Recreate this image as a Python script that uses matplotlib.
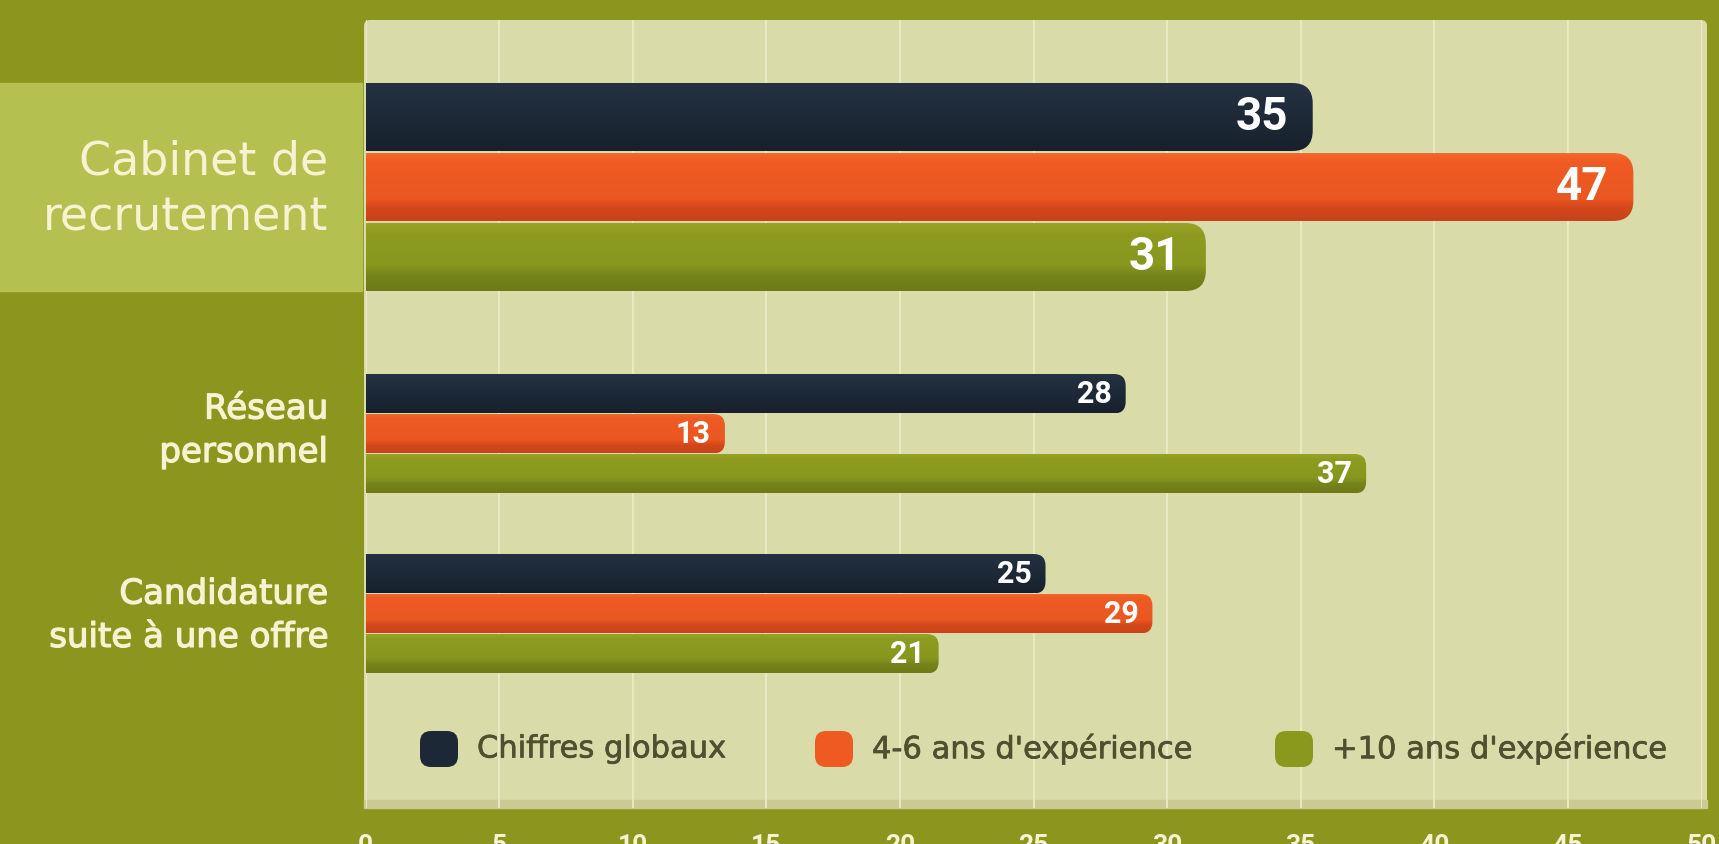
import numpy as np
import matplotlib
matplotlib.use("Agg")
import matplotlib.pyplot as plt
import matplotlib.patheffects as pe
from matplotlib.patches import FancyBboxPatch, Rectangle
from matplotlib.colors import to_rgb

# Donnees
categories = ["Cabinet de\nrecrutement", "Réseau\npersonnel", "Candidature\nsuite à une offre"]
series = ["Chiffres globaux", "4-6 ans d'expérience", "+10 ans d'expérience"]
chiffres_globaux = [35, 28, 25]
ans_4_6 = [47, 13, 29]
ans_10_plus = [31, 37, 21]
graduations = [0, 5, 10, 15, 20, 25, 30, 35, 40, 45, 50]

# Couleurs
FOND = "#8b961f"
PANNEAU = "#d9dba9"
SURLIGNE = "#b4c04f"
CREME = "#f6f3d2"
TEXTE_LEGENDE = "#4f5030"
COULEURS = ["#1c2836", "#ee5a22", "#8a991e"]
DEGRADES = [
    [(0.0, "#243242"), (1.0, "#17212d")],
    [(0.0, "#f46a32"), (0.12, "#ef5b23"), (0.68, "#ea5720"), (0.8, "#d3481b"), (1.0, "#c8431a")],
    [(0.0, "#98a527"), (0.15, "#8d9c1f"), (0.62, "#879720"), (0.78, "#75841a"), (1.0, "#6d7a17")],
]

# Mise en page (pixels de la figure, origine en haut a gauche)
W, H = 1719, 844
X0_PX, PX_PAR_UNITE = 365.5, 26.72
HAUT_PANNEAU, BAS_PANNEAU = 20, 808
haut_groupe = [83, 374, 554]
epaisseur = [68, 39.5, 39.5]
ecart = [2, 0.5, 0.5]
decalage_libelle = [3, -3, 2]
taille_valeur = [33, 22]
retrait_valeur = [18, 10]
CAP = 0.45


def boite_fig(x0, y0, x1, y1):
    return [x0 / W, 1 - y1 / H, (x1 - x0) / W, (y1 - y0) / H]


def degrade(arrets, n=120):
    pos = np.linspace(0, 1, n)
    p = [a[0] for a in arrets]
    cols = np.array([to_rgb(a[1]) for a in arrets])
    img = np.stack([np.interp(pos, p, cols[:, k]) for k in range(3)], axis=1)
    return img.reshape(n, 1, 3)


fig = plt.figure(figsize=(W / 100, H / 100), dpi=100)
fig.patch.set_facecolor(FOND)

# bande claire derriere la premiere categorie
fig.patches.append(Rectangle((0, 1 - 291 / H), 362 / W, (291 - 83) / H,
                             transform=fig.transFigure, color=SURLIGNE, zorder=0))

# panneau clair arrondi
px0, px1 = 364, 1707
fig.patches.append(FancyBboxPatch((px0 / W, 1 - BAS_PANNEAU / H), (px1 - px0) / W,
                                  (BAS_PANNEAU - HAUT_PANNEAU) / H,
                                  boxstyle=f"round,pad=0,rounding_size={6 / W}",
                                  mutation_aspect=W / H, transform=fig.transFigure,
                                  facecolor=PANNEAU, edgecolor="none", zorder=0))
fig.patches.append(Rectangle((px0 / W, 1 - BAS_PANNEAU / H), (px1 - px0) / W, 8 / H,
                             transform=fig.transFigure, color="#c9cc92", zorder=0))

ax = fig.add_axes(boite_fig(X0_PX, HAUT_PANNEAU, X0_PX + 50 * PX_PAR_UNITE, BAS_PANNEAU))
ax.set_facecolor("none")
ax.set_zorder(2)

valeurs = [chiffres_globaux, ans_4_6, ans_10_plus]
epais = [pe.withStroke(linewidth=0.9, foreground=CREME)]

for g, cat in enumerate(categories):
    for s, serie in enumerate(valeurs):
        v = serie[g]
        h = epaisseur[g]
        haut = haut_groupe[g] + s * (h + ecart[g])
        r = 0.3 * h
        fin = v + CAP
        forme = FancyBboxPatch((-1, haut), fin + 1, h,
                               boxstyle=f"round,pad=0,rounding_size={r / PX_PAR_UNITE}",
                               mutation_aspect=PX_PAR_UNITE,
                               facecolor="none", edgecolor="none", zorder=3)
        ax.add_patch(forme)
        im = ax.imshow(degrade(DEGRADES[s]), extent=(-1, fin, haut + h, haut),
                       aspect="auto", interpolation="bilinear", zorder=3)
        im.set_clip_path(forme)
        k = 0 if g == 0 else 1
        ax.annotate(str(v), xy=(fin, haut + h / 2), xytext=(-retrait_valeur[k], 0),
                    textcoords="offset points", ha="right", va="center",
                    fontsize=taille_valeur[k], fontweight="bold", family="Roboto",
                    color="white", zorder=4)

    centre = haut_groupe[g] + 1.5 * epaisseur[g] + ecart[g] + decalage_libelle[g]
    if g == 0:
        ax.annotate(cat, xy=(0, centre), xytext=(-27, 0), textcoords="offset points",
                    ha="right", va="center", fontsize=33, family="DejaVu Sans",
                    color=CREME, linespacing=1.3, annotation_clip=False)
    else:
        ax.annotate(cat, xy=(0, centre), xytext=(-27, 0), textcoords="offset points",
                    ha="right", va="center", fontsize=24.5, family="DejaVu Sans",
                    color=CREME, linespacing=1.4, path_effects=epais,
                    annotation_clip=False)

# legende dessinee a la main
legende_x_px = [420, 815, 1275]
for s, nom in enumerate(series):
    xd = (legende_x_px[s] - X0_PX) / PX_PAR_UNITE
    marque = FancyBboxPatch((xd, 731), 38 / PX_PAR_UNITE, 36,
                            boxstyle=f"round,pad=0,rounding_size={11 / PX_PAR_UNITE}",
                            mutation_aspect=PX_PAR_UNITE,
                            facecolor=COULEURS[s], edgecolor="none", zorder=3)
    ax.add_patch(marque)
    ax.text(xd + 57 / PX_PAR_UNITE, 749, nom, ha="left", va="center",
            fontsize=22, family="DejaVu Sans", color=TEXTE_LEGENDE, zorder=3,
            path_effects=[pe.withStroke(linewidth=0.5, foreground=TEXTE_LEGENDE)])

ax.set_xlim(0, 50)
ax.set_ylim(BAS_PANNEAU, HAUT_PANNEAU)
ax.set_aspect("auto")
ax.set_xticks(graduations)
ax.set_yticks([])
ax.grid(axis="x", color="#eff1d0", linewidth=1.1)
ax.vlines(graduations[1:-1], HAUT_PANNEAU, BAS_PANNEAU, colors="#cbcd96",
          linewidth=0.7, zorder=0.5)
ax.set_axisbelow(True)
ax.tick_params(axis="x", length=0, pad=19, labelsize=19, labelcolor=CREME)
for lab in ax.get_xticklabels():
    lab.set_fontweight("bold")
    lab.set_family("Roboto")
for sp in ax.spines.values():
    sp.set_visible(False)

fig.savefig("out.png", dpi=100, facecolor=FOND)
